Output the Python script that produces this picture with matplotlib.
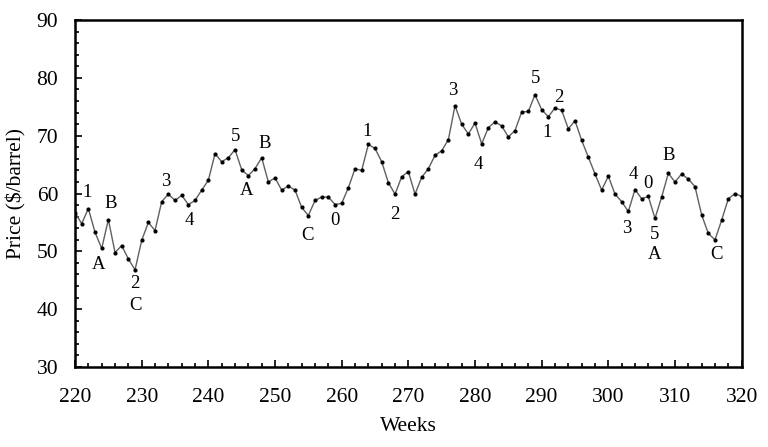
import matplotlib.pyplot as plt
from matplotlib.ticker import MultipleLocator

weeks = list(range(220, 321))
prices = [
    56.7, 54.8, 57.4, 53.3, 50.5, 55.5, 49.8, 51.0, 48.7, 46.8,
    51.9, 55.0, 53.6, 58.6, 59.9, 58.8, 59.7, 58.1, 58.8, 60.6,
    62.3, 66.9, 65.5, 66.2, 67.6, 64.1, 63.1, 64.3, 66.2, 62.0,
    62.7, 60.6, 61.3, 60.6, 57.6, 56.2, 58.8, 59.4, 59.4, 58.1,
    58.3, 61.0, 64.3, 64.0, 68.5, 67.8, 65.5, 61.9, 59.9, 62.9,
    63.8, 59.9, 62.8, 64.3, 66.6, 67.4, 69.3, 75.2, 72.0, 70.3,
    72.2, 68.6, 71.4, 72.4, 71.7, 69.8, 70.9, 74.1, 74.2, 77.1,
    74.5, 73.3, 74.8, 74.4, 71.2, 72.6, 69.2, 66.3, 63.4, 60.6,
    63.0, 59.9, 58.6, 56.9, 60.7, 59.1, 59.5, 55.7, 59.4, 63.5,
    62.0, 63.4, 62.5, 61.2, 56.3, 53.1, 52.0, 55.4, 59.1, 60.0,
    59.5,
]

# wave labels: (text, week, price)
wave_labels = [
    ("1", 221.75, 60.1), ("A", 223.5, 47.8), ("B", 225.3, 58.3),
    ("2", 229.0, 44.5), ("C", 229.1, 40.6), ("3", 233.6, 62.0),
    ("4", 237.2, 55.3), ("5", 244.1, 69.8), ("A", 245.7, 60.5),
    ("B", 248.4, 68.7), ("C", 254.8, 52.8), ("0", 259.0, 55.4),
    ("1", 263.8, 70.7), ("2", 268.0, 56.3), ("3", 276.6, 77.8),
    ("4", 280.5, 65.1), ("5", 289.1, 79.9), ("1", 290.8, 70.5),
    ("2", 292.5, 76.6), ("3", 302.7, 53.9), ("4", 303.8, 63.3),
    ("0", 305.9, 61.7), ("5", 306.9, 52.9), ("A", 306.9, 49.5),
    ("B", 309.0, 66.6), ("C", 316.3, 49.4),
]

plt.rcParams['font.family'] = ['Liberation Serif', 'DejaVu Serif']

fig = plt.figure(figsize=(7.68, 4.47), dpi=100)
ax = fig.add_axes([0.0977, 0.179, 0.868, 0.776])

ax.plot(weeks, prices, color='#606060', linewidth=1.0,
        marker='o', markersize=2.0, markerfacecolor='black',
        markeredgecolor='black')

for txt, wx, wy in wave_labels:
    ax.text(wx, wy, txt, fontsize=13.5, ha='center', va='center')

ax.set_xlim(220, 320)
ax.set_ylim(30, 90)
ax.xaxis.set_major_locator(MultipleLocator(10))
ax.xaxis.set_minor_locator(MultipleLocator(2))
ax.yaxis.set_major_locator(MultipleLocator(10))
ax.yaxis.set_minor_locator(MultipleLocator(2))
ax.tick_params(which='both', direction='in', labelsize=15.5,
               top=False, right=False, width=1.2)
ax.tick_params(which='major', length=5)
ax.tick_params(which='minor', length=3)
ax.tick_params(axis='x', which='major', pad=15)
ax.tick_params(axis='y', which='major', pad=12)
for s in ax.spines.values():
    s.set_linewidth(1.8)

ax.set_xlabel("Weeks", fontsize=15.5, labelpad=7)
ax.set_ylabel("Price ($/barrel)", fontsize=15.5, labelpad=7)

fig.savefig("out.png", dpi=100)
